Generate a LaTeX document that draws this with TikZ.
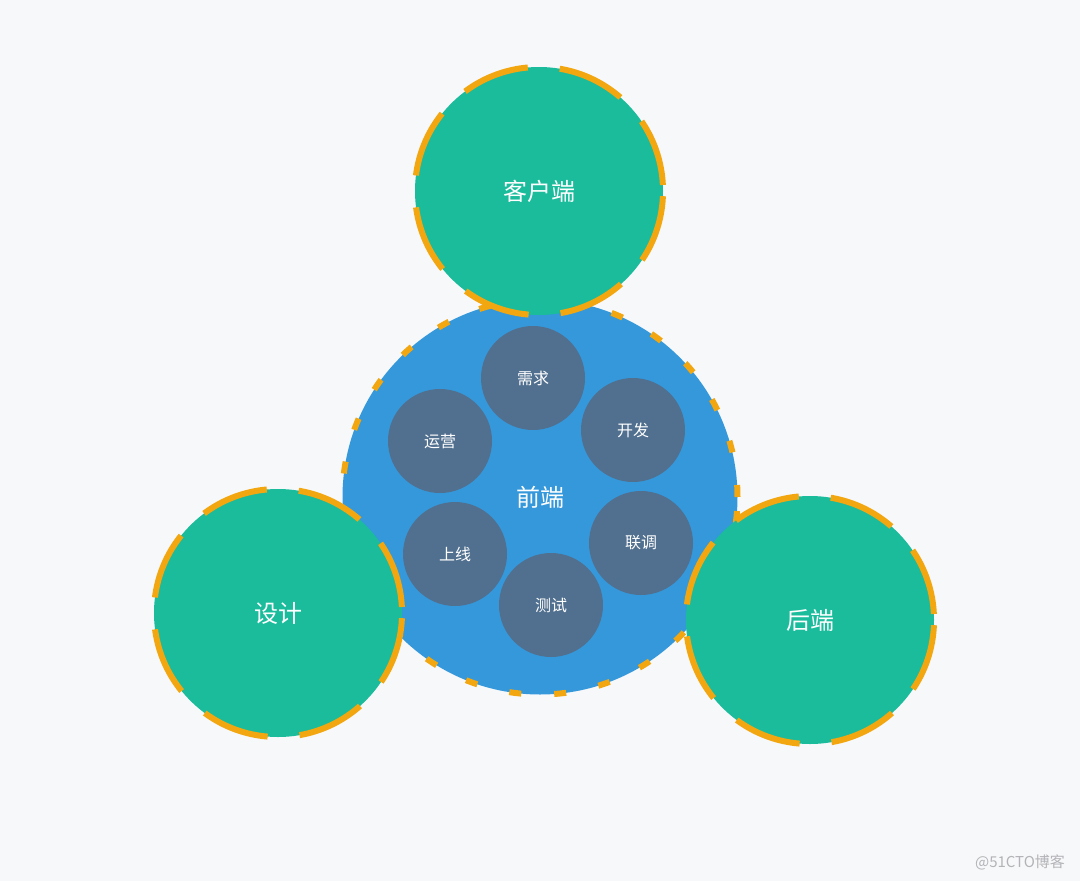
\documentclass[tikz,border=0pt]{standalone}
\usepackage{fontspec}
\setmainfont{Noto Sans CJK SC}
\usepackage{tikz}
\usetikzlibrary{positioning}
\definecolor{bggray}{HTML}{F7F8FA}
\definecolor{tealgreen}{HTML}{1ABC9C}
\definecolor{frontblue}{HTML}{3498DB}
\definecolor{slateblue}{HTML}{51708F}
\definecolor{dashorange}{HTML}{F2A60F}
\definecolor{markgray}{HTML}{B4B4B8}
\tikzset{
  outer/.style={circle,fill=tealgreen,draw=dashorange,line width=6pt,
    dash pattern=on 68pt off 32pt,dash phase=94pt,minimum size=248pt,inner sep=0pt,
    text=white,font=\fontsize{24pt}{28pt}\selectfont},
  front/.style={circle,fill=frontblue,draw=dashorange,line width=6pt,
    dash pattern=on 12pt off 33pt,minimum size=395pt,inner sep=0pt,
    text=white,font=\fontsize{24pt}{28pt}\selectfont},
  phase/.style={circle,fill=slateblue,minimum size=104pt,inner sep=0pt,
    text=white,font=\fontsize{16pt}{20pt}\selectfont}
}

\begin{document}
\begin{tikzpicture}[x=1pt,y=-1pt]
\fill[bggray] (0,0) rectangle (1080,881);
\useasboundingbox (0,0) rectangle (1080,881);
\node[front] (qianduan) at (540,497) {前端};
\node[phase] (xuqiu) at (533,378) {需求};
\node[phase] (kaifa) at (633,430) {开发};
\node[phase] (yunying) at (440,441) {运营};
\node[phase] (shangxian) at (455,554) {上线};
\node[phase] (liantiao) at (641,543) {联调};
\node[phase] (ceshi) at (551,605) {测试};
\node[outer] (kehuduan) at (539,191) {客户端};
\node[outer] (sheji) at (278,613) {设计};
\node[outer] (houduan) at (810,620) {后端};
\node[text=markgray,font=\fontsize{15pt}{18pt}\selectfont] (mark) at (1020,862) {@51CTO博客};
\end{tikzpicture}
\end{document}
